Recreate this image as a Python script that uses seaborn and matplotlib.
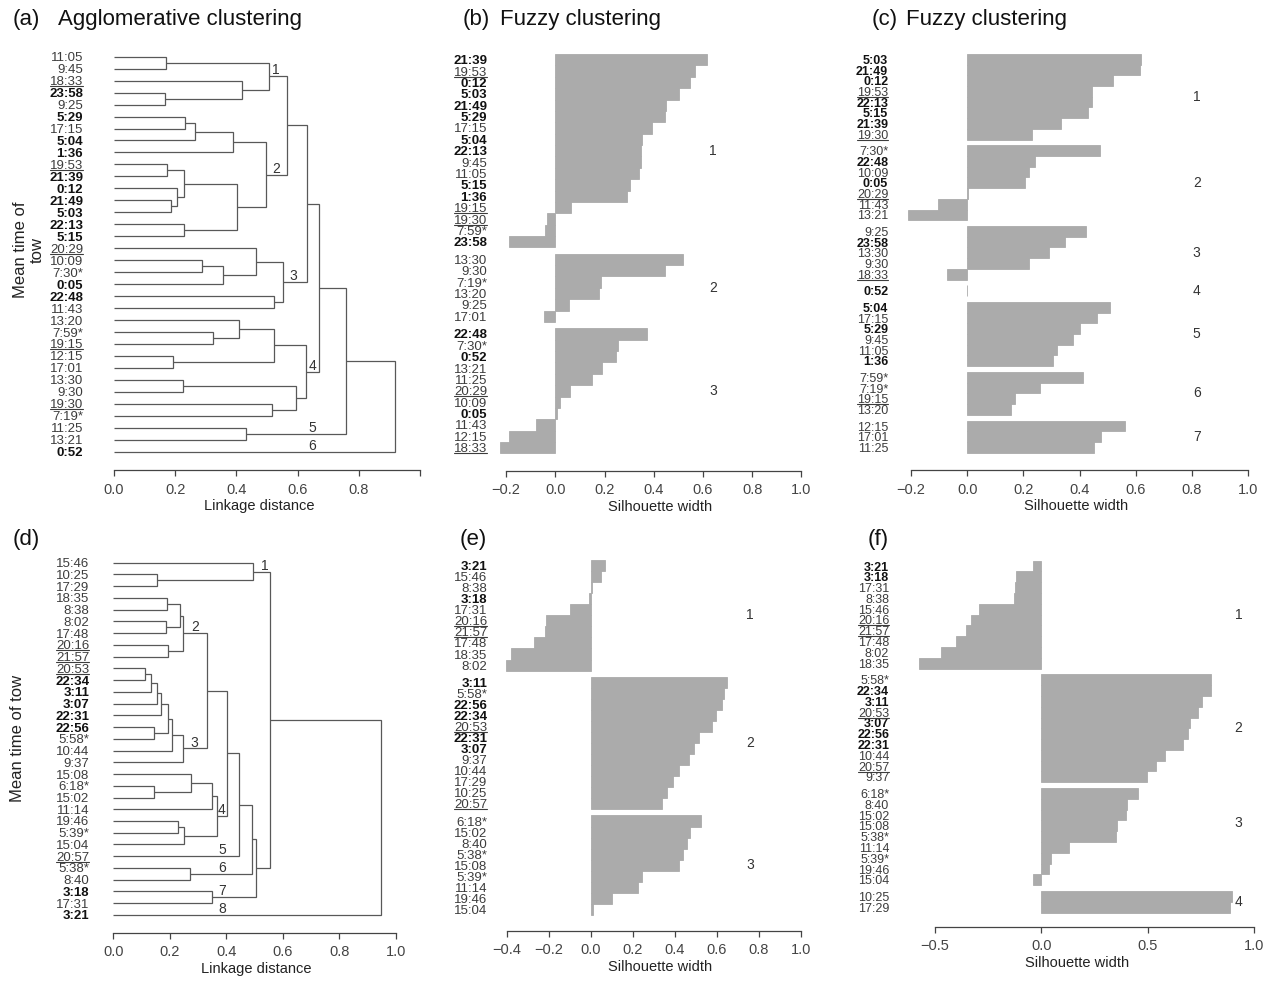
import matplotlib
matplotlib.use("Agg")
import matplotlib.pyplot as plt
from matplotlib.lines import Line2D
import numpy as np
import pandas as pd
import seaborn as sns

sns.set_theme(style="white")
plt.rcParams['font.family'] = ['Liberation Sans', 'DejaVu Sans']

# ------------------------------------------------------------------ data
# label styles (bold = night tows, underlined = dusk tows, * = dawn tows)
TOP_BOLD = ["21:39", "21:49", "22:13", "22:48", "23:58", "0:05", "0:12", "0:52",
            "1:36", "5:03", "5:04", "5:15", "5:29"]
TOP_UNDER = ["18:33", "19:15", "19:30", "19:53", "20:29"]
BOT_BOLD = ["22:31", "22:34", "22:56", "3:07", "3:11", "3:18", "3:21"]
BOT_UNDER = ["20:16", "20:53", "20:57", "21:57"]

# (a) agglomerative clustering: merges (int = earlier merge, str = leaf)
A_LEFT = ["11:05", "23:58", "18:33", 0, "5:29", 4, 5, "19:53", "21:49", "0:12",
          7, "22:13", 10, 6, 3, "10:09", 15, "20:29", "22:48", 17,
          14, "7:59*", "13:20", "12:15", 22, "13:30", "19:30", 25, 24, 20,
          "11:25", 29, 31]
A_RIGHT = ["9:45", "9:25", 1, 2, "17:15", "5:04", "1:36", "21:39", "5:03", 8,
           9, "5:15", 11, 12, 13, "7:30*", "0:05", 16, "11:43", 18,
           19, "19:15", 21, "17:01", 23, "9:30", "7:19*", 26, 27, 28,
           "13:21", 30, "0:52"]
A_HEIGHT = [0.170, 0.168, 0.417, 0.508, 0.233, 0.264, 0.388, 0.172, 0.185, 0.207,
            0.230, 0.230, 0.402, 0.497, 0.566, 0.288, 0.357, 0.464, 0.523, 0.551,
            0.630, 0.325, 0.407, 0.194, 0.523, 0.225, 0.516, 0.594, 0.627, 0.670,
            0.431, 0.758, 0.917]
A_GROUP_NODE = [3, 13, 19, 28, 30, "0:52"]
A_GROUP_TEXT = ["1", "2", "3", "4", "5", "6"]
A_GROUP_X = [0.529, 0.529, 0.586, 0.649, 0.647, 0.647]

# (b) fuzzy clustering, 3 clusters
B_LABELS = ["21:39", "19:53", "0:12", "5:03", "21:49", "5:29", "17:15", "5:04", "22:13",
            "9:45", "11:05", "5:15", "1:36", "19:15", "19:30", "7:59*", "23:58",
            "13:30", "9:30", "7:19*", "13:20", "9:25", "17:01",
            "22:48", "7:30*", "0:52", "13:21", "11:25", "20:29", "10:09", "0:05",
            "11:43", "12:15", "18:33"]
B_WIDTH = [0.615, 0.568, 0.548, 0.502, 0.450, 0.446, 0.393, 0.352, 0.350,
           0.347, 0.340, 0.304, 0.293, 0.062, -0.032, -0.040, -0.190,
           0.518, 0.446, 0.184, 0.176, 0.054, -0.046,
           0.373, 0.256, 0.247, 0.189, 0.148, 0.060, 0.019, 0.008,
           -0.077, -0.187, -0.225]
B_SIZES = [17, 6, 11]

# (c) fuzzy clustering, 7 clusters
C_LABELS = ["5:03", "21:49", "0:12", "19:53", "22:13", "5:15", "21:39", "19:30",
            "7:30*", "22:48", "10:09", "0:05", "20:29", "11:43", "13:21",
            "9:25", "23:58", "13:30", "9:30", "18:33",
            "0:52",
            "5:04", "17:15", "5:29", "9:45", "11:05", "1:36",
            "7:59*", "7:19*", "19:15", "13:20",
            "12:15", "17:01", "11:25"]
C_WIDTH = [0.619, 0.615, 0.518, 0.445, 0.443, 0.429, 0.333, 0.230,
           0.474, 0.240, 0.220, 0.205, 0.003, -0.103, -0.212,
           0.422, 0.347, 0.292, 0.219, -0.073,
           0.0,
           0.508, 0.463, 0.401, 0.378, 0.321, 0.304,
           0.412, 0.258, 0.169, 0.156,
           0.562, 0.476, 0.452]
C_SIZES = [8, 7, 5, 1, 6, 4, 3]

# (d) agglomerative clustering (second survey)
D_LEFT = ["10:25", "15:46", "18:35", "8:02", 2, "20:16", 4, "20:53", 7, 8,
          9, "22:56", 10, 12, 13, 6, "6:18*", "15:08", 17, "19:46",
          19, 18, 15, 22, "5:38*", 23, "3:18", 25, 1, 28]
D_RIGHT = ["17:29", 0, "8:38", "17:48", 3, "21:57", 5, "22:34", "3:11", "3:07",
           "22:31", "5:58*", 11, "10:44", "9:37", 14, "15:02", 16, "11:14", "5:39*",
           "15:04", 20, 21, "20:57", "8:40", 24, "17:31", 26, 27, "3:21"]
D_HEIGHT = [0.154, 0.496, 0.189, 0.187, 0.236, 0.194, 0.246, 0.111, 0.134, 0.156,
            0.170, 0.145, 0.195, 0.209, 0.246, 0.332, 0.144, 0.276, 0.350, 0.230,
            0.251, 0.368, 0.402, 0.446, 0.272, 0.492, 0.350, 0.505, 0.555, 0.948]
D_GROUP_NODE = [1, 6, 14, 21, "20:57", 24, 26, "3:21"]
D_GROUP_TEXT = ["1", "2", "3", "4", "5", "6", "7", "8"]
D_GROUP_X = [0.535, 0.289, 0.287, 0.384, 0.387, 0.384, 0.384, 0.387]

# (e) fuzzy clustering, 3 clusters
E_LABELS = ["3:21", "15:46", "8:38", "3:18", "17:31", "20:16", "21:57", "17:48", "18:35", "8:02",
            "3:11", "5:58*", "22:56", "22:34", "20:53", "22:31", "3:07", "9:37", "10:44",
            "17:29", "10:25", "20:57",
            "6:18*", "15:02", "8:40", "5:38*", "15:08", "5:39*", "11:14", "19:46", "15:04"]
E_WIDTH = [0.070, 0.051, 0.004, -0.008, -0.099, -0.213, -0.219, -0.270, -0.381, -0.405,
           0.651, 0.636, 0.624, 0.598, 0.578, 0.517, 0.492, 0.470, 0.419,
           0.394, 0.362, 0.340,
           0.524, 0.473, 0.457, 0.438, 0.422, 0.243, 0.227, 0.100, 0.013]
E_SIZES = [10, 12, 9]

# (f) fuzzy clustering, 4 clusters
F_LABELS = ["3:21", "3:18", "17:31", "8:38", "15:46", "20:16", "21:57", "17:48", "8:02", "18:35",
            "5:58*", "22:34", "3:11", "20:53", "3:07", "22:56", "22:31", "10:44", "20:57", "9:37",
            "6:18*", "8:40", "15:02", "15:08", "5:38*", "11:14", "5:39*", "19:46", "15:04",
            "10:25", "17:29"]
F_WIDTH = [-0.041, -0.120, -0.123, -0.128, -0.292, -0.332, -0.354, -0.400, -0.472, -0.573,
           0.798, 0.797, 0.753, 0.737, 0.698, 0.687, 0.667, 0.581, 0.537, 0.498,
           0.453, 0.404, 0.398, 0.357, 0.351, 0.131, 0.047, 0.038, -0.038,
           0.897, 0.886]
F_SIZES = [10, 10, 9, 2]
F_GROUP_DY = [0, 0, -1.3, 0]

# ------------------------------------------------------------------ style
W, H = 1267, 981
BAR = "#ababab"
LINE = "#585858"
AX = "#444444"
TXT = "#3c3c3c"
GAP = 0.55

fig = plt.figure(figsize=(W / 100, H / 100), dpi=100)
fig.patch.set_facecolor("white")


def make_axes(left, right, top, bottom, zero, scale, first, unit, first_val):
    ax = fig.add_axes([left / W, 1 - bottom / H, (right - left) / W, (bottom - top) / H])
    lims = dict(x=((left - zero) / scale, (right - zero) / scale),
                y=(first_val + (bottom - first) / unit, first_val + (top - first) / unit))
    return ax, lims


def finish(ax, lims, lo, hi, ticks, ticklabels, xlabel):
    ax.set_xlim(*lims["x"])
    ax.set_ylim(*lims["y"])
    ax.set_facecolor("white")
    for s in ("left", "top", "right"):
        ax.spines[s].set_visible(False)
    sp = ax.spines["bottom"]
    sp.set_visible(True)
    sp.set_bounds(lo, hi)
    sp.set_color(AX)
    sp.set_linewidth(0.9)
    ax.set_xticks(ticks)
    ax.set_xticklabels(ticklabels)
    ax.tick_params(axis="x", direction="out", length=4, width=0.9, color=AX,
                   labelsize=10.5, labelcolor=AX, pad=5, bottom=True)
    ax.tick_params(axis="y", length=0, pad=2, left=False)
    ax.set_xlabel(xlabel, fontsize=10.5, color="#222222", labelpad=2)
    ax.set_ylabel("")
    ax.grid(False)


def style_labels(ax, bold, fs):
    for t in ax.get_yticklabels():
        t.set_fontsize(fs)
        if t.get_text() in bold:
            t.set_fontweight("bold")
            t.set_color("#111111")
        else:
            t.set_color(TXT)


def dendrogram(ax, left, right, height, nodes_lab, texts, xs, bold, fs):
    def order(n):
        if isinstance(n, str):
            return [n]
        return order(left[n]) + order(right[n])
    leaves = order(len(height) - 1)
    ypos = {lab: i for i, lab in enumerate(leaves)}
    nodes = {}

    def coord(n):
        if isinstance(n, str):
            return ypos[n], 0.0
        return nodes[n]
    for k in range(len(height)):
        y1, h1 = coord(left[k])
        y2, h2 = coord(right[k])
        h = height[k]
        ax.plot([h1, h, h, h2], [y1, y1, y2, y2], color=LINE, lw=0.9,
                solid_joinstyle="miter", solid_capstyle="butt")
        nodes[k] = ((y1 + y2) / 2, h)
    for n, t, x in zip(nodes_lab, texts, xs):
        y = coord(n)[0]
        ax.text(x, y - 0.5, t, ha="center", va="center", fontsize=10, color="#333333")
    ax.set_yticks(range(len(leaves)))
    ax.set_yticklabels(leaves)
    style_labels(ax, bold, fs)


def silhouette(ax, labels, widths, sizes, xlab, bold, fs, dy=None):
    clus = np.repeat(np.arange(len(sizes)), sizes)
    pos = np.arange(len(labels)) + GAP * clus
    df = pd.DataFrame({"width": widths, "pos": pos})
    sns.barplot(data=df, x="width", y="pos", orient="h", native_scale=True, width=1.0,
                color=BAR, saturation=1, errorbar=None, edgecolor=BAR, linewidth=0.6, ax=ax)
    ax.set_yticks(pos)
    ax.set_yticklabels(labels)
    style_labels(ax, bold, fs)
    if dy is None:
        dy = [0] * len(sizes)
    for c in range(len(sizes)):
        ax.text(xlab, pos[clus == c].mean() + dy[c], str(c + 1), ha="center", va="center",
                fontsize=10, color="#333333")


# (a)
axA, lA = make_axes(86, 432, 40, 470, 114, 306, 56.7, 11.97, 0)
dendrogram(axA, A_LEFT, A_RIGHT, A_HEIGHT, A_GROUP_NODE, A_GROUP_TEXT, A_GROUP_X, TOP_BOLD, 9.5)
finish(axA, lA, 0, 1.0, [0, 0.2, 0.4, 0.6, 0.8, 1.0],
       ["0.0", "0.2", "0.4", "0.6", "0.8", ""], "Linkage distance")

# (b)
axB, lB = make_axes(490, 830, 40, 470.7, 555.3, 246, 54, 11.38, -0.5)
silhouette(axB, B_LABELS, B_WIDTH, B_SIZES, 0.641, TOP_BOLD, 9.5)
tk = [-0.2, 0, 0.2, 0.4, 0.6, 0.8, 1.0]
finish(axB, lB, -0.2, 1.0, tk, ["\u22120.2", "0.0", "0.2", "0.4", "0.6", "0.8", "1.0"],
       "Silhouette width")

# (c)
axC, lC = make_axes(891, 1262, 40, 470, 967.3, 280.8, 54, 10.69, -0.5)
silhouette(axC, C_LABELS, C_WIDTH, C_SIZES, 0.817, TOP_BOLD, 9)
finish(axC, lC, -0.2, 1.0, tk, ["\u22120.2", "0.0", "0.2", "0.4", "0.6", "0.8", "1.0"],
       "Silhouette width")

# (d)
axD, lD = make_axes(92, 420, 550, 932.7, 113.3, 282.3, 562.7, 11.74, 0)
dendrogram(axD, D_LEFT, D_RIGHT, D_HEIGHT, D_GROUP_NODE, D_GROUP_TEXT, D_GROUP_X, BOT_BOLD, 9.5)
finish(axD, lD, 0, 1.0, [0, 0.2, 0.4, 0.6, 0.8, 1.0],
       ["0.0", "0.2", "0.4", "0.6", "0.8", "1.0"], "Linkage distance")

# (e)
axE, lE = make_axes(490, 830, 550, 930.7, 590.7, 210, 560, 11.06, -0.5)
silhouette(axE, E_LABELS, E_WIDTH, E_SIZES, 0.759, BOT_BOLD, 9.5)
tk2 = [-0.4, -0.2, 0, 0.2, 0.4, 0.6, 0.8, 1.0]
finish(axE, lE, -0.4, 1.0, tk2,
       ["\u22120.4", "\u22120.2", "0.0", "0.2", "0.4", "0.6", "0.8", "1.0"], "Silhouette width")

# (f)
axF, lF = make_axes(892, 1262, 550, 926.7, 1041.3, 213, 560.7, 10.78, -0.5)
silhouette(axF, F_LABELS, F_WIDTH, F_SIZES, 0.925, BOT_BOLD, 9, F_GROUP_DY)
finish(axF, lF, -0.5, 1.0, [-0.5, 0, 0.5, 1.0], ["\u22120.5", "0.0", "0.5", "1.0"],
       "Silhouette width")

# titles and y labels
def ftext(x, y, s, **kw):
    fig.text(x / W, 1 - y / H, s, **kw)

TS = dict(fontsize=16, color="#111111", va="center", ha="left")
ftext(13, 19, "(a)", **TS)
ftext(58, 19, "Agglomerative clustering", **TS)
ftext(463, 19, "(b)", **TS)
ftext(500, 19, "Fuzzy clustering", **TS)
ftext(872, 19, "(c)", **TS)
ftext(906, 19, "Fuzzy clustering", **TS)
ftext(13, 539, "(d)", **TS)
ftext(460, 539, "(e)", **TS)
ftext(868, 539, "(f)", **TS)
ftext(29, 250, "Mean time of\ntow", fontsize=12, color="#222222", rotation=90,
      ha="center", va="center", linespacing=1.1)
ftext(18, 738, "Mean time of tow", fontsize=12, color="#222222", rotation=90,
      ha="center", va="center")

# underline dusk labels
fig.canvas.draw()
renderer = fig.canvas.get_renderer()
for ax, under in [(axA, TOP_UNDER), (axB, TOP_UNDER), (axC, TOP_UNDER),
                  (axD, BOT_UNDER), (axE, BOT_UNDER), (axF, BOT_UNDER)]:
    for t in ax.get_yticklabels():
        if t.get_text() in under:
            bb = t.get_window_extent(renderer)
            yv = bb.y0 + 2.0
            fig.add_artist(Line2D([bb.x0 / W, bb.x1 / W], [yv / H, yv / H],
                                  transform=fig.transFigure, color=TXT, lw=0.8))

fig.savefig("out.png", dpi=100, facecolor="white")
